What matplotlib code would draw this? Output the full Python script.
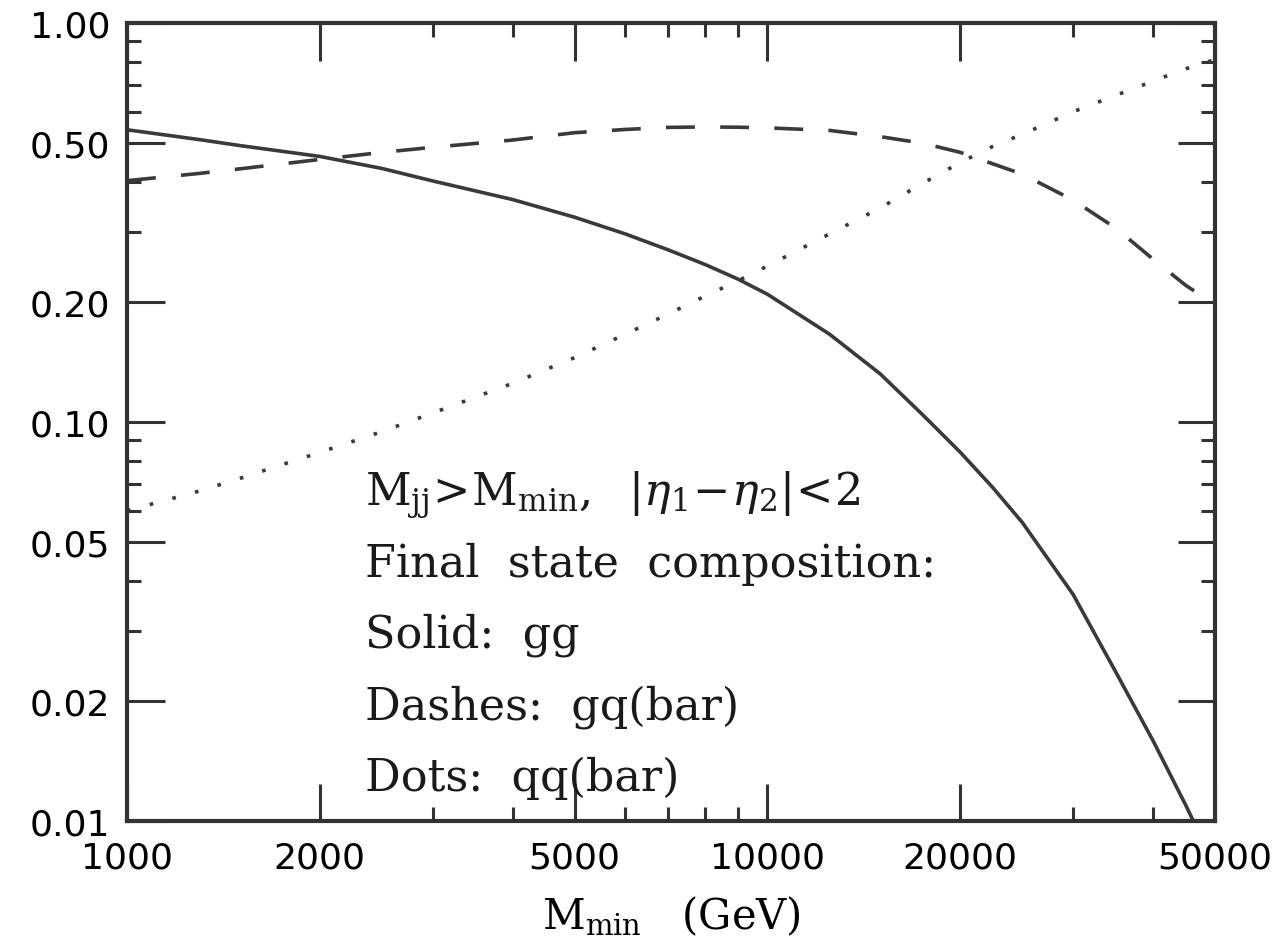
# Final state composition of dijet events vs. minimum dijet mass

import numpy as np
import matplotlib
matplotlib.use("Agg")
import matplotlib.pyplot as plt
from matplotlib.ticker import FixedLocator, NullFormatter


# Data:

m_min = [1000, 1300, 1500, 2000, 2500, 3000, 4000, 5000, 6000, 7000, 8000, 9000,
         10000, 12500, 15000, 17500, 20000, 22500, 25000, 30000, 35000, 40000,
         45000, 50000]

frac_gg = [0.540, 0.510, 0.493, 0.463, 0.432, 0.402, 0.361, 0.326, 0.296, 0.270,
           0.248, 0.228, 0.209, 0.166, 0.132, 0.104, 0.084, 0.0684, 0.056, 0.037,
           0.0236, 0.0159, 0.01095, 0.0077]

frac_gq = [0.4025, 0.420, 0.431, 0.455, 0.474, 0.488, 0.509, 0.531, 0.541, 0.5475,
           0.549, 0.548, 0.546, 0.538, 0.519, 0.4995, 0.474, 0.4435, 0.418, 0.360,
           0.306, 0.256, 0.220, 0.197]

frac_qq = [0.0599, 0.0672, 0.0722, 0.0839, 0.0946, 0.1053, 0.125, 0.145, 0.166,
           0.1865, 0.207, 0.226, 0.246, 0.296, 0.344, 0.397, 0.447, 0.491, 0.526,
           0.599, 0.659, 0.715, 0.768, 0.81]

x_major = [1000, 2000, 5000, 10000, 20000, 50000]
x_minor = [3000, 4000, 6000, 7000, 8000, 9000, 30000, 40000]
y_major = [0.01, 0.02, 0.05, 0.10, 0.20, 0.50, 1.00]
y_minor = [0.03, 0.04, 0.06, 0.07, 0.08, 0.09, 0.3, 0.4, 0.6, 0.7, 0.8, 0.9]

note_lines = [r"$\mathrm{M_{jj}\!>\!M_{min}},\ \ |\eta_1\!-\!\eta_2|\!<\!2$",
              "Final  state  composition:",
              "Solid:  gg",
              "Dashes:  gq(bar)",
              "Dots:  qq(bar)"]


# Plot:

plt.rcParams["mathtext.fontset"] = "dejavuserif"
line_col = "#3a3a3a"

fig = plt.figure(figsize=(12.77, 9.53), dpi=100)
ax = fig.add_axes([0.0995, 0.1375, 0.852, 0.8373])

ax.plot(m_min, frac_gg, color=line_col, lw=2.6, linestyle="-")
ax.plot(m_min, frac_gq, color=line_col, lw=2.6, linestyle=(0, (8, 7)))
ax.plot(m_min, frac_qq, color=line_col, lw=2.6, linestyle=(0, (1, 5.5)))

ax.set_xscale("log")
ax.set_yscale("log")
ax.set_xlim(1000, 50000)
ax.set_ylim(0.01, 1.0)

ax.xaxis.set_major_locator(FixedLocator(x_major))
ax.xaxis.set_minor_locator(FixedLocator(x_minor))
ax.yaxis.set_major_locator(FixedLocator(y_major))
ax.yaxis.set_minor_locator(FixedLocator(y_minor))
ax.set_xticklabels([str(v) for v in x_major])
ax.set_yticklabels(["%.2f" % v for v in y_major])
ax.xaxis.set_minor_formatter(NullFormatter())
ax.yaxis.set_minor_formatter(NullFormatter())

ax.tick_params(which="both", direction="in", top=True, right=True, color="#333333")
ax.tick_params(which="major", length=27, width=2.2, labelsize=26)
ax.tick_params(which="minor", length=10, width=2.2)
ax.tick_params(axis="x", which="major", pad=14)
ax.tick_params(axis="y", which="major", pad=12)
for lab in ax.get_xticklabels() + ax.get_yticklabels():
    lab.set_family("DejaVu Sans")

for sp in ax.spines.values():
    sp.set_linewidth(3)
    sp.set_color("#333333")

ax.set_xlabel(r"$\mathrm{M_{min}}$   (GeV)", family="DejaVu Serif", fontsize=30, labelpad=14)

# annotation block
for i, txt in enumerate(note_lines):
    fig.text(365 / 1277, 1 - (505 + 71.5 * i) / 953, txt, family="DejaVu Serif",
             fontsize=32, ha="left", va="baseline", color="#1a1a1a")

fig.savefig("out.png", dpi=100)
